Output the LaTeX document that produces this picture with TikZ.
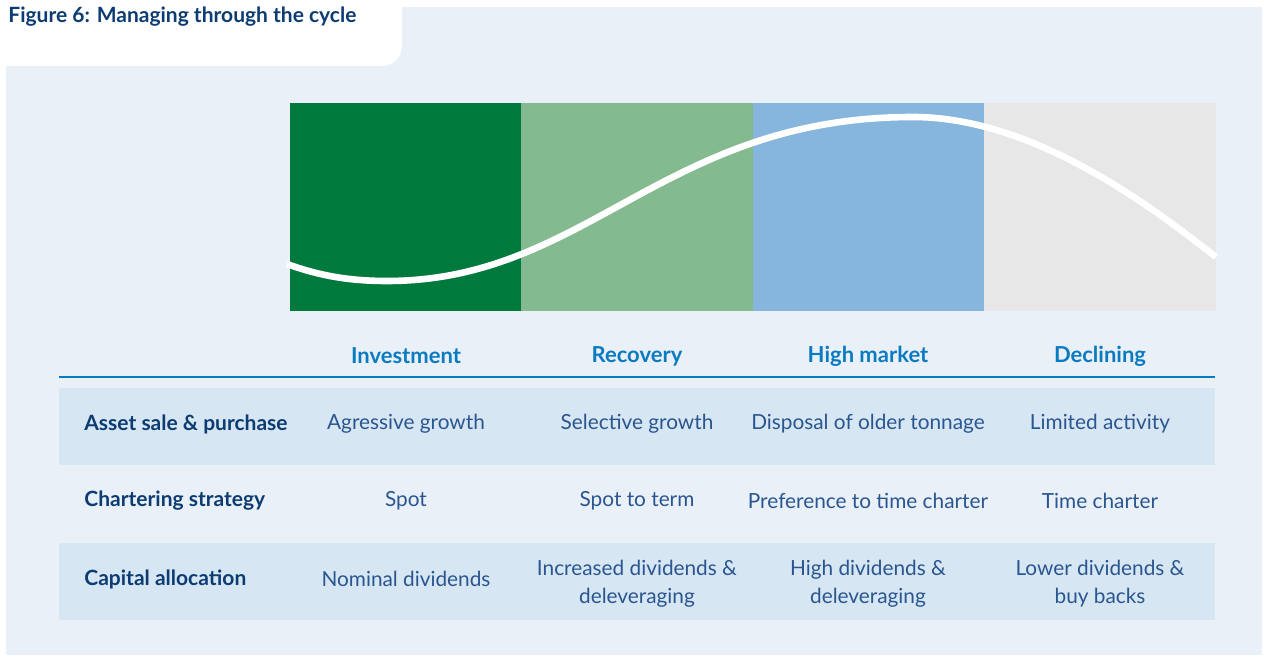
\documentclass[tikz,border=0pt]{standalone}
\usepackage{fontspec}
\setmainfont{Lato}
\usepackage{xcolor}
\usepackage{tikz}
\definecolor{bgblue}{HTML}{E9F0F8}
\definecolor{bandblue}{HTML}{D7E6F3}
\definecolor{navy}{HTML}{0D3C72}
\definecolor{midblue}{HTML}{0A7BC0}
\definecolor{cellblue}{HTML}{2A5690}
\definecolor{darkgreen}{HTML}{00793D}
\definecolor{lightgreen}{HTML}{84BA8F}
\definecolor{skyblue}{HTML}{86B6DE}
\definecolor{palegray}{HTML}{E7E7E7}
\tikzset{
    phase/.style={font=\fontsize{11}{13}\selectfont\bfseries, text=midblue},
    rowhead/.style={font=\fontsize{10.5}{13}\selectfont\bfseries, text=navy, anchor=west, inner sep=0pt},
    cell/.style={font=\fontsize{10.4}{14}\selectfont, text=cellblue, align=center},
}

\begin{document}
\begin{tikzpicture}[x=0.5pt, y=-0.5pt]
                \useasboundingbox (0,0) rectangle (1264,657);
                \fill[bgblue] (6,7) rectangle (1262,655);
                \fill[white, rounded corners=10pt] (6,-30) rectangle (402,66);
                \fill[white] (6,-30) rectangle (300,66);
                \node[anchor=base west, inner sep=0pt, text=navy, font=\fontsize{10.5}{12}\selectfont\bfseries] (title) at (8,23) {Figure 6: Managing through the cycle};

                % the cycle
                \fill[darkgreen] (290,103) rectangle (521,311);
                \fill[lightgreen] (521,103) rectangle (753,311);
                \fill[skyblue] (753,103) rectangle (984,311);
                \fill[palegray] (984,103) rectangle (1216,311);
                \coordinate (low) at (387,281);
                \coordinate (top) at (913,117);
                \draw[white, line width=3.3pt] (287,264) .. controls (320,276) and (350,281) .. (low)
                    .. controls (587,281) and (663,117) .. (top)
                    .. controls (1043,117) and (1170,222) .. (1216,257);

                \node[phase] (inv) at (406,356) {Investment};
                \node[phase] (rec) at (637,356) {Recovery};
                \node[phase] (high) at (868,356) {High market};
                \node[phase] (dec) at (1100,356) {Declining};
                \draw[midblue, line width=0.8pt] (59,377) -- (1215,377);

                % table rows
                \fill[bandblue] (59,388) rectangle (1215,465);
                \fill[bandblue] (59,543) rectangle (1215,620);

                \node[rowhead] (asset) at (84,424) {Asset sale \& purchase};
                \node[cell] (a1) at (406,424) {Agressive growth};
                \node[cell] (a2) at (637,424) {Selective growth};
                \node[cell] (a3) at (868,424) {Disposal of older tonnage};
                \node[cell] (a4) at (1100,424) {Limited activity};

                \node[rowhead] (charter) at (84,501) {Chartering strategy};
                \node[cell] (c1) at (406,501) {Spot};
                \node[cell] (c2) at (637,501) {Spot to term};
                \node[cell] (c3) at (868,501) {Preference to time charter};
                \node[cell] (c4) at (1100,501) {Time charter};

                \node[rowhead] (capital) at (84,579) {Capital allocation};
                \node[cell] (k1) at (406,579) {Nominal dividends};
                \node[cell] (k2) at (637,584) {Increased dividends \&\\deleveraging};
                \node[cell] (k3) at (868,584) {High dividends \&\\deleveraging};
                \node[cell] (k4) at (1100,584) {Lower dividends \&\\buy backs};
\end{tikzpicture}
\end{document}
